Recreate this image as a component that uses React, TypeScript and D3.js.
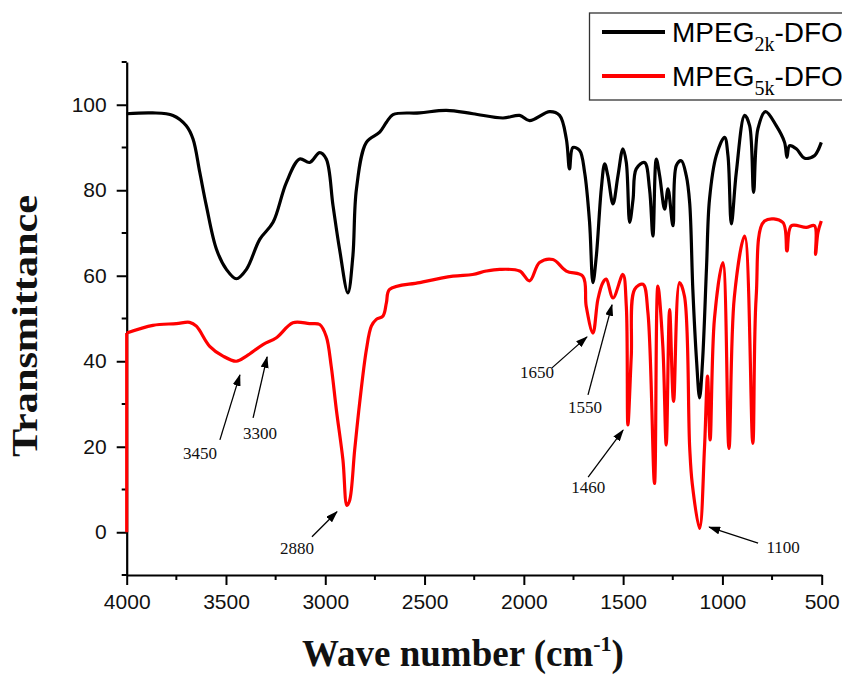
import React, { useEffect, useRef } from 'react';
import * as d3 from 'd3';

// MPEG2k-DFO spectrum (wave number, transmittance)
const blackWave = [4000, 3870, 3767, 3700, 3666, 3632, 3599, 3548, 3498, 3448, 3397, 3330, 3263, 3196, 3129, 3079, 3028, 2995, 2961, 2928, 2886, 2861, 2843, 2793, 2726, 2692, 2659, 2525, 2390, 2256, 2105, 2021, 1971, 1870, 1820, 1786, 1770, 1753, 1719, 1694, 1669, 1652, 1635, 1610, 1593, 1577, 1551, 1526, 1501, 1484, 1467, 1450, 1434, 1392, 1367, 1350, 1333, 1316, 1291, 1274, 1249, 1232, 1207, 1182, 1165, 1149, 1130, 1115, 1100, 1080, 1065, 1031, 989, 972, 955, 930, 888, 863, 843, 821, 783, 729, 687, 675, 662, 628, 586, 536, 519, 502];
const blackT = [97.9, 98.1, 97.5, 95.1, 92, 84.2, 76.4, 66.2, 61.5, 59.3, 61.5, 68.5, 72.5, 81.8, 87.3, 86.5, 88.8, 87.3, 76.4, 66.2, 56, 64.6, 80.3, 91.2, 93.6, 95.9, 97.7, 98.1, 98.7, 97.9, 96.9, 97.5, 96.3, 98.4, 97.5, 92, 85, 90, 89.3, 84.2, 72.5, 58.4, 64.6, 80.3, 86.2, 83.4, 76.8, 83.4, 89.7, 86.5, 72.5, 77.9, 85, 86.5, 80.3, 69.3, 87.3, 83.4, 75.6, 80.3, 71.7, 85.8, 86.9, 83.4, 77.1, 56.8, 40, 31.4, 40, 62, 77.9, 88.1, 92.4, 88.1, 72.1, 84.2, 97.5, 95.1, 79.5, 94.4, 98.4, 95.1, 91.2, 87.7, 90.4, 89.7, 87.5, 88.1, 89.3, 91.2];

// MPEG5k-DFO spectrum
const redWave = [4000, 4000, 3868, 3750, 3683, 3649, 3582, 3515, 3448, 3397, 3314, 3246, 3163, 3079, 3028, 2995, 2970, 2944, 2911, 2891, 2877, 2852, 2827, 2793, 2768, 2743, 2709, 2692, 2676, 2525, 2357, 2258, 2189, 2122, 2021, 1971, 1921, 1854, 1786, 1703, 1686, 1652, 1627, 1602, 1585, 1551, 1501, 1484, 1476, 1459, 1442, 1400, 1375, 1342, 1325, 1300, 1283, 1266, 1246, 1216, 1191, 1165, 1152, 1115, 1090, 1075, 1062, 1040, 998, 967, 940, 888, 847, 830, 788, 696, 675, 653, 578, 536, 531, 519, 502];
const redT = [0, 46.6, 48.4, 48.8, 49.1, 48.2, 43.5, 41.2, 40, 41.2, 43.9, 45.5, 49, 48.8, 48.6, 45.8, 38.8, 28.6, 16.9, 6.3, 7.5, 19.2, 30.2, 42.7, 48.2, 49.8, 50.6, 53.7, 56.8, 58.4, 59.9, 60.3, 61.1, 61.5, 61.1, 58.8, 63.1, 63.8, 61.1, 59.9, 52.9, 46.6, 54.5, 58.4, 59.2, 54.8, 60.3, 52.9, 25.1, 41.2, 56.8, 58, 51.3, 11.4, 57.6, 43.5, 20.4, 52.1, 30.6, 58.4, 55.2, 20, 11.4, 0.9, 20, 36.5, 21.6, 50, 63.1, 19.6, 55, 69.3, 20.8, 55, 72.8, 72.5, 65.8, 71.7, 71.3, 71.7, 65, 70.1, 72.8];

// peak annotations (arrow tip in data units)
const peakLabels = ['3450', '3300', '2880', '1650', '1550', '1460', '1100'];
const peakWave = [3430, 3293, 2941, 1682, 1556, 1500, 1067];
const peakT = [36.8, 41.0, 4.8, 45.7, 53.2, 23.9, 1.2];
// layout: arrow tail offset from tip, label offset from tail (px)
const tailOffset = [[-20, 65], [-14, 61], [-25, 25], [-35, 31], [-24, 90], [-35, 47], [49, 16]];
const textOffset = [[-20, 19], [7, 21], [-15, 17], [-15, 10], [-3, 18], [0, 16], [25, 10]];

const xTicks = [4000, 3500, 3000, 2500, 2000, 1500, 1000, 500];
const yTicks = [0, 20, 40, 60, 80, 100];

export default function App() {
  const ref = useRef(null);

  useEffect(() => {
    const svg = d3.select(ref.current);
    svg.selectAll('*').remove();

    const x = d3.scaleLinear().domain([4000, 500]).range([126.7, 821.7]);
    const y = d3.scaleLinear().domain([-10, 110]).range([575, 62]);

    // arrow head
    svg.append('defs').append('marker')
      .attr('id', 'ah')
      .attr('markerUnits', 'userSpaceOnUse')
      .attr('markerWidth', 12).attr('markerHeight', 8)
      .attr('refX', 11).attr('refY', 4)
      .attr('orient', 'auto')
      .append('path').attr('d', 'M0,0 L12,4 L0,8 Z').attr('fill', '#000');

    // minor ticks
    const xMinor = d3.range(4000, 499, -250).filter(v => v % 500 !== 0);
    const yMinor = d3.range(-10, 111, 10).filter(v => v % 20 !== 0);

    const gx = svg.append('g').attr('transform', `translate(0,${y(-10)})`);
    gx.call(d3.axisBottom(x).tickValues(xTicks).tickSize(10).tickSizeOuter(0).tickPadding(9).tickFormat(d3.format('d')));
    gx.selectAll('line').attr('stroke-width', 2);
    gx.select('.domain').attr('stroke-width', 2.2);
    gx.selectAll('text').attr('font-family', '"Liberation Sans", Arial, sans-serif').attr('font-size', 21).attr('fill', '#111');
    gx.selectAll('.minor').data(xMinor).enter().append('line')
      .attr('x1', d => x(d)).attr('x2', d => x(d)).attr('y1', 0).attr('y2', 5)
      .attr('stroke', '#000').attr('stroke-width', 2);

    const gy = svg.append('g').attr('transform', `translate(${x(4000)},0)`);
    gy.call(d3.axisLeft(y).tickValues(yTicks).tickSize(10).tickSizeOuter(0).tickPadding(10));
    gy.selectAll('line').attr('stroke-width', 2);
    gy.select('.domain').attr('stroke-width', 2.2);
    gy.selectAll('text').attr('font-family', '"Liberation Sans", Arial, sans-serif').attr('font-size', 21).attr('fill', '#111');
    gy.selectAll('.minor').data(yMinor).enter().append('line')
      .attr('y1', d => y(d)).attr('y2', d => y(d)).attr('x1', 0).attr('x2', -5)
      .attr('stroke', '#000').attr('stroke-width', 2);

    const smooth = d3.line<[number, number]>()
      .x(d => x(d[0])).y(d => y(d[1]))
      .curve(d3.curveCatmullRom.alpha(0.5));
    const straight = d3.line<[number, number]>().x(d => x(d[0])).y(d => y(d[1]));
    const series = [
      { w: blackWave, t: blackT, color: '#000' },
      { w: redWave, t: redT, color: '#ff0000' },
    ];
    series.forEach(s => {
      let pts = s.w.map((w, i) => [w, s.t[i]] as [number, number]);
      // the red trace starts with a vertical jump at 4000; keep that part straight
      if (pts[0][0] === pts[1][0]) {
        svg.append('path').attr('d', straight(pts.slice(0, 2)))
          .attr('fill', 'none').attr('stroke', s.color).attr('stroke-width', 3.2);
        pts = pts.slice(1);
      }
      svg.append('path').attr('d', smooth(pts))
        .attr('fill', 'none').attr('stroke', s.color)
        .attr('stroke-width', 3.2).attr('stroke-linejoin', 'round');
    });

    // annotations
    peakLabels.forEach((lab, i) => {
      const tx = x(peakWave[i]), ty = y(peakT[i]);
      const sx = tx + tailOffset[i][0], sy = ty + tailOffset[i][1];
      svg.append('line').attr('x1', sx).attr('y1', sy).attr('x2', tx).attr('y2', ty)
        .attr('stroke', '#000').attr('stroke-width', 1.3).attr('marker-end', 'url(#ah)');
      svg.append('text').attr('x', sx + textOffset[i][0]).attr('y', sy + textOffset[i][1])
        .attr('text-anchor', 'middle').attr('font-family', '"Liberation Serif", "Times New Roman", serif')
        .attr('font-size', 17).attr('fill', '#111').text(lab);
    });

    // legend (runs off the right edge like the source figure)
    const lg = svg.append('g');
    lg.append('rect').attr('x', 589.5).attr('y', 13).attr('width', 300).attr('height', 87)
      .attr('fill', 'white').attr('stroke', '#333').attr('stroke-width', 1.3);
    const items = [{ sub: '2k', color: '#000', yy: 32 }, { sub: '5k', color: '#ff0000', yy: 76 }];
    items.forEach(it => {
      lg.append('line').attr('x1', 602).attr('x2', 665).attr('y1', it.yy).attr('y2', it.yy)
        .attr('stroke', it.color).attr('stroke-width', 4);
      const t = lg.append('text').attr('x', 672).attr('y', it.yy + 10)
        .attr('font-family', '"Liberation Sans", Arial, sans-serif').attr('font-size', 28).attr('fill', '#000');
      t.append('tspan').text('MPEG');
      t.append('tspan').attr('dy', 9).attr('font-size', 20)
        .attr('font-family', '"Liberation Serif", "Times New Roman", serif').text(it.sub);
      t.append('tspan').attr('dy', -9).text('-DFO');
    });

    // axis titles
    svg.append('text').attr('transform', 'translate(37,326) rotate(-90)')
      .attr('text-anchor', 'middle').attr('font-family', '"Liberation Serif", "Times New Roman", serif')
      .attr('font-weight', 'bold').attr('font-size', 36).attr('fill', '#111')
      .attr('textLength', 262).attr('lengthAdjust', 'spacingAndGlyphs')
      .text('Transmittance');
    const xt = svg.append('text').attr('x', 463).attr('y', 666)
      .attr('text-anchor', 'middle').attr('font-family', '"Liberation Serif", "Times New Roman", serif')
      .attr('font-weight', 'bold').attr('font-size', 37).attr('fill', '#111');
    xt.append('tspan').text('Wave number (cm');
    xt.append('tspan').attr('dy', -15).attr('font-size', 22).text('-1');
    xt.append('tspan').attr('dy', 15).text(')');
  }, []);

  return (
    <svg ref={ref} width={842} height={676}
      style={{ position: 'absolute', left: 0, top: 0, background: '#fff' }} />
  );
}
